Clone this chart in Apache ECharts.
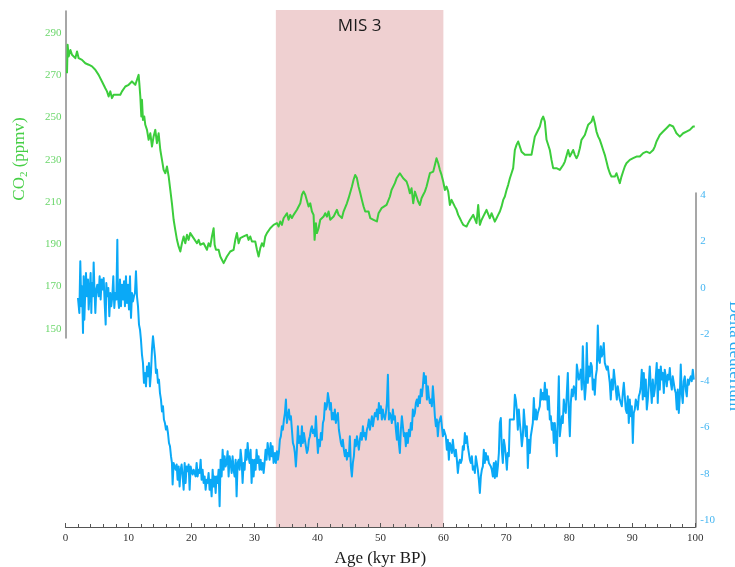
<!DOCTYPE html>
<html>
<head>
<meta charset="utf-8">
<title>CO2 and deuterium, 0-100 kyr BP</title>
<script src="https://cdn.jsdelivr.net/npm/echarts@6/dist/echarts.min.js"></script>
<style>
  html, body { margin: 0; padding: 0; background: #ffffff; }
  #chart { width: 735px; height: 567px; }
</style>
</head>
<body>
<div id="chart"></div>
<script>
// Atmospheric CO2 (ppmv) against age (kyr BP)
const co2Record = [
  [0.24,270.9],[0.34,284.3],[0.50,278.8],[0.77,281.9],[1.03,279.6],[1.30,280.4],[1.56,278.0],[1.83,281.2],[2.09,278.0],[2.35,278.8],
  [2.62,277.2],[2.88,276.4],[3.15,275.6],[3.41,276.4],[3.68,274.9],[3.94,275.6],[4.21,274.1],[4.47,273.3],[4.73,272.5],[5.00,271.7],
  [5.26,270.1],[5.53,269.3],[5.79,267.0],[6.06,266.2],[6.32,263.8],[6.59,262.3],[6.85,259.9],[7.12,262.3],[7.38,259.1],[7.64,260.7],
  [7.91,259.9],[8.17,260.7],[8.44,261.5],[8.70,260.7],[8.97,262.3],[9.23,263.0],[9.50,264.6],[9.76,263.8],[10.03,265.4],[10.29,266.2],
  [10.55,267.0],[10.82,267.8],[11.08,265.4],[11.35,267.8],[11.61,270.1],[11.72,266.2],[11.88,259.9],[12.04,250.4],[12.14,258.3],[12.30,248.8],
  [12.51,250.4],[12.67,246.5],[12.94,244.1],[13.20,239.4],[13.47,242.5],[13.73,236.2],[13.99,241.0],[14.26,244.1],[14.52,237.8],[14.79,242.5],
  [15.05,234.7],[15.32,229.9],[15.58,225.2],[15.85,223.6],[16.11,226.8],[16.38,222.1],[16.64,215.7],[16.90,209.4],[17.17,201.6],[17.43,196.8],
  [17.70,192.1],[17.96,189.0],[18.23,186.6],[18.49,190.5],[18.76,193.7],[19.02,190.5],[19.29,194.5],[19.55,192.1],[19.81,195.3],[20.08,196.0],
  [20.34,192.9],[20.61,193.7],[20.87,190.5],[21.14,192.1],[21.40,189.8],[21.67,189.0],[21.93,190.5],[22.20,191.3],[22.46,187.4],[22.72,190.5],
  [22.99,189.0],[23.25,193.7],[23.52,197.6],[23.68,189.8],[23.89,187.4],[24.05,186.6],[24.31,187.4],[24.58,184.2],[24.84,182.7],[25.11,181.1],
  [25.37,181.9],[25.63,184.2],[25.90,184.2],[26.16,186.6],[26.43,185.8],[26.69,187.4],[26.96,192.1],[27.22,195.3],[27.49,190.5],[27.75,192.9],
  [28.02,192.1],[28.28,193.7],[28.54,192.9],[28.81,194.5],[29.07,192.1],[29.34,193.7],[29.60,191.3],[29.87,190.5],[30.13,191.3],[30.40,187.4],
  [30.66,184.2],[30.93,188.2],[31.19,190.5],[31.45,189.0],[31.72,193.7],[31.98,195.3],[32.25,194.5],[32.51,197.6],[32.78,196.8],[33.04,199.2],
  [33.31,198.4],[33.57,200.0],[33.84,198.4],[34.10,200.8],[34.37,199.2],[34.63,202.3],[34.89,201.6],[35.16,204.7],[35.42,201.6],[35.69,203.9],
  [35.95,202.4],[36.22,203.9],[36.48,204.7],[36.75,206.3],[37.01,205.5],[37.28,209.4],[37.54,213.4],[37.80,215.0],[38.07,213.4],[38.33,212.6],
  [38.60,207.9],[38.86,209.4],[39.13,205.5],[39.39,203.9],[39.55,192.1],[39.76,200.0],[39.92,195.3],[40.18,197.6],[40.45,201.6],[40.71,200.8],
  [40.98,203.1],[41.24,204.7],[41.51,203.1],[41.77,205.5],[42.04,201.6],[42.30,200.8],[42.57,203.1],[42.83,204.7],[43.10,206.3],[43.36,203.9],
  [43.62,203.1],[43.89,202.4],[44.15,205.5],[44.42,206.3],[44.68,209.4],[44.95,211.8],[45.21,212.6],[45.48,217.3],[45.74,220.5],[46.00,222.8],
  [46.27,221.3],[46.53,217.3],[46.80,214.2],[47.06,211.0],[47.33,207.9],[47.59,205.5],[47.86,204.7],[48.12,205.5],[48.39,202.4],[48.65,201.6],
  [48.91,201.6],[49.18,202.4],[49.44,200.8],[49.71,204.7],[49.92,204.7],[50.18,207.1],[50.45,207.8],[50.98,208.6],[51.24,209.4],[51.51,212.6],
  [51.77,215.7],[52.04,214.9],[52.30,218.9],[52.57,221.2],[52.83,222.0],[53.09,223.6],[53.36,222.8],[53.62,221.2],[53.89,220.4],[54.15,219.7],
  [54.42,217.3],[54.68,214.1],[54.95,216.5],[55.21,209.4],[55.48,214.9],[55.74,212.6],[56.00,210.2],[56.27,208.6],[56.53,211.8],[56.80,213.4],
  [57.06,214.9],[57.33,217.3],[57.59,220.4],[57.86,223.6],[58.12,224.4],[58.39,224.4],[58.65,227.5],[58.91,230.7],[59.18,228.3],[59.44,225.2],
  [59.71,222.8],[59.97,219.7],[60.24,215.7],[60.50,217.3],[60.77,214.9],[61.03,208.6],[61.30,211.0],[61.56,211.0],[61.82,207.8],[62.09,206.3],
  [62.35,203.9],[62.62,202.3],[62.88,200.7],[63.15,199.2],[63.41,198.4],[63.68,198.4],[63.94,200.0],[64.21,201.5],[64.47,202.3],[64.74,203.9],
  [65.00,203.1],[65.26,200.0],[65.53,208.6],[65.79,199.2],[66.06,201.5],[66.32,203.1],[66.59,204.7],[66.85,206.3],[67.12,207.1],[67.38,202.3],
  [67.65,204.7],[67.91,203.9],[68.17,200.7],[68.44,202.3],[68.70,203.9],[68.97,205.5],[69.23,207.8],[69.50,211.0],[69.76,212.6],[70.03,215.7],
  [70.29,218.1],[70.56,221.2],[70.82,223.6],[71.08,226.0],[71.35,234.6],[71.61,237.0],[71.88,238.6],[72.14,239.4],[72.41,233.8],[72.67,233.1],
  [72.94,232.3],[73.20,231.5],[73.47,232.3],[73.73,233.1],[73.99,232.3],[74.26,232.3],[74.52,240.9],[74.79,242.5],[75.05,243.3],[75.32,245.7],
  [75.58,248.8],[75.85,250.4],[76.11,248.0],[76.38,239.4],[76.64,238.6],[76.90,234.6],[77.17,229.9],[77.43,226.0],[77.70,225.2],[77.96,226.0],
  [78.23,226.8],[78.49,225.2],[78.76,226.0],[79.02,227.5],[79.29,229.1],[79.55,229.9],[79.81,234.6],[80.08,231.5],[80.34,232.3],[80.61,234.6],
  [80.87,232.3],[81.14,230.7],[81.40,232.3],[81.67,235.4],[81.93,239.4],[82.19,240.1],[82.46,241.7],[82.72,244.1],[82.99,246.5],[83.25,247.2],
  [83.52,248.0],[83.78,250.4],[84.05,247.2],[84.31,243.3],[84.58,240.9],[84.84,239.4],[85.11,237.0],[85.37,234.6],[85.63,232.3],[85.90,229.1],
  [86.16,226.0],[86.43,223.6],[86.69,222.0],[86.96,221.2],[87.22,222.0],[87.49,223.6],[87.75,221.2],[88.01,218.9],[88.28,222.0],[88.54,224.4],
  [88.81,226.8],[89.07,228.3],[89.34,229.1],[89.60,229.9],[89.87,229.9],[90.13,230.7],[90.40,231.5],[90.66,231.5],[90.93,232.3],[91.19,231.5],
  [91.45,231.5],[91.72,233.1],[91.98,233.8],[92.25,233.8],[92.51,233.8],[92.78,233.1],[93.04,233.8],[93.31,234.6],[93.57,236.2],[93.84,238.6],
  [94.10,240.1],[94.36,241.7],[94.63,242.5],[94.89,243.3],[95.16,243.3],[95.42,244.9],[95.69,245.7],[95.95,246.5],[96.22,246.5],[96.48,245.7],
  [96.75,244.1],[97.01,242.5],[97.28,241.7],[97.54,240.9],[97.80,240.9],[98.07,242.5],[98.33,243.3],[98.60,243.3],[98.86,243.3],[99.13,244.1],
  [99.39,244.9],[99.66,245.7],[99.92,245.7]
];

// Delta deuterium (per mil anomaly) against age (kyr BP)
const deuteriumRecord = [
  [1.98,-0.43],[2.20,-1.08],[2.35,1.15],[2.51,-0.79],[2.62,0.07],[2.78,-1.94],[2.88,0.50],[2.99,-1.37],[3.15,-0.07],[3.25,0.64],
  [3.41,-0.36],[3.57,0.36],[3.68,-0.93],[3.84,-0.14],[3.99,0.64],[4.10,-1.08],[4.21,0.21],[4.36,-0.36],[4.47,1.10],[4.58,0.07],
  [4.74,-1.08],[4.89,-0.07],[5.05,0.14],[5.26,-0.36],[5.42,0.50],[5.58,-0.50],[5.74,0.36],[5.90,-0.07],[6.06,0.43],[6.22,-0.65],
  [6.38,-1.58],[6.48,0.21],[6.64,-0.36],[6.80,0.00],[6.96,-1.22],[7.12,-0.22],[7.27,-0.79],[7.43,-0.36],[7.59,0.50],[7.75,-0.86],
  [7.91,-0.22],[8.07,-0.50],[8.23,2.08],[8.33,-0.36],[8.49,-0.86],[8.65,0.36],[8.81,-0.79],[8.97,0.14],[9.13,-0.50],[9.29,0.29],
  [9.44,-0.79],[9.60,0.50],[9.76,-0.65],[9.92,0.14],[10.08,-0.93],[10.24,0.50],[10.40,-1.29],[10.56,-0.22],[10.71,-0.58],[10.87,-0.36],
  [11.03,-0.22],[11.19,0.72],[11.35,-0.36],[11.51,-0.79],[11.67,-1.58],[11.83,-1.80],[11.98,-2.23],[12.14,-2.87],[12.30,-3.23],[12.46,-4.09],
  [12.62,-3.66],[12.78,-4.24],[12.94,-3.38],[13.10,-3.81],[13.25,-3.23],[13.41,-4.24],[13.57,-3.66],[13.73,-2.66],[13.89,-2.08],[14.05,-2.51],
  [14.21,-2.95],[14.36,-3.66],[14.52,-3.52],[14.68,-4.09],[14.84,-3.95],[15.00,-4.53],[15.16,-4.81],[15.32,-5.32],[15.48,-5.10],[15.63,-5.67],
  [15.79,-5.82],[15.95,-6.10],[16.11,-5.96],[16.27,-6.25],[16.43,-6.68],[16.59,-6.82],[16.75,-7.25],[16.90,-7.54],[17.01,-8.47],[17.17,-7.54],
  [17.33,-7.69],[17.49,-7.83],[17.65,-7.61],[17.80,-8.26],[17.96,-7.69],[18.12,-8.55],[18.28,-7.83],[18.44,-7.61],[18.60,-8.12],[18.76,-8.69],
  [18.92,-7.54],[19.07,-8.40],[19.23,-7.69],[19.39,-7.90],[19.55,-7.61],[19.71,-8.69],[19.87,-7.69],[20.03,-7.90],[20.19,-8.04],[20.34,-7.83],
  [20.50,-7.97],[20.66,-8.12],[20.82,-7.54],[20.98,-8.12],[21.14,-7.83],[21.30,-7.97],[21.46,-7.40],[21.61,-8.26],[21.77,-7.83],[21.93,-8.40],
  [22.09,-8.12],[22.25,-8.69],[22.41,-8.26],[22.57,-8.40],[22.72,-7.97],[22.88,-8.69],[23.04,-8.26],[23.20,-8.98],[23.36,-7.83],[23.52,-8.55],
  [23.68,-8.12],[23.84,-8.83],[23.99,-8.12],[24.15,-8.40],[24.31,-7.83],[24.47,-9.41],[24.63,-7.40],[24.79,-8.12],[24.95,-6.97],[25.11,-7.83],
  [25.26,-7.25],[25.42,-7.69],[25.58,-7.54],[25.74,-7.04],[25.90,-8.12],[26.06,-7.25],[26.22,-7.54],[26.38,-7.97],[26.53,-7.25],[26.69,-7.83],
  [26.85,-8.12],[27.01,-7.40],[27.17,-8.98],[27.33,-7.54],[27.49,-7.40],[27.65,-7.83],[27.80,-6.97],[27.96,-7.40],[28.12,-8.40],[28.28,-7.54],
  [28.44,-7.83],[28.60,-6.97],[28.76,-7.40],[28.92,-6.68],[29.07,-7.25],[29.23,-7.54],[29.39,-6.97],[29.55,-8.40],[29.71,-7.40],[29.87,-8.12],
  [30.03,-7.40],[30.19,-7.83],[30.34,-6.97],[30.50,-7.54],[30.66,-7.25],[30.82,-7.83],[30.98,-7.40],[31.14,-7.83],[31.30,-7.54],[31.46,-7.97],
  [31.61,-7.54],[31.77,-6.97],[31.93,-7.40],[32.09,-6.68],[32.25,-6.68],[32.41,-7.40],[32.57,-6.68],[32.72,-7.25],[32.88,-6.82],[33.04,-7.54],
  [33.20,-7.25],[33.25,-7.11],[33.41,-7.54],[33.57,-7.04],[33.73,-7.40],[33.88,-7.11],[34.04,-6.54],[34.20,-6.39],[34.36,-5.96],[34.52,-6.11],
  [34.68,-5.67],[34.84,-5.39],[35.00,-4.81],[35.15,-5.82],[35.31,-5.53],[35.47,-5.24],[35.63,-5.67],[35.79,-5.53],[35.95,-6.11],[36.11,-6.68],
  [36.27,-6.82],[36.42,-7.11],[36.58,-7.69],[36.74,-6.97],[36.90,-5.96],[37.06,-6.68],[37.22,-6.39],[37.38,-6.82],[37.54,-5.96],[37.69,-6.68],
  [37.85,-6.25],[38.01,-6.54],[38.17,-6.82],[38.33,-7.11],[38.49,-6.97],[38.65,-6.54],[38.81,-6.39],[38.96,-6.11],[39.12,-5.96],[39.28,-6.25],
  [39.44,-6.11],[39.60,-6.39],[39.76,-5.53],[39.92,-6.39],[40.08,-7.11],[40.23,-6.54],[40.39,-6.82],[40.55,-6.25],[40.71,-6.54],[40.87,-5.82],
  [41.03,-5.67],[41.19,-4.96],[41.35,-5.24],[41.50,-5.10],[41.66,-4.53],[41.82,-4.81],[41.98,-5.24],[42.14,-4.96],[42.30,-5.67],[42.46,-5.39],
  [42.62,-5.67],[42.77,-5.24],[42.93,-5.82],[43.09,-5.53],[43.25,-5.39],[43.41,-6.11],[43.57,-6.39],[43.73,-6.68],[43.88,-6.82],[44.04,-6.54],
  [44.20,-6.97],[44.36,-7.25],[44.52,-6.97],[44.68,-7.40],[44.84,-7.11],[45.00,-7.25],[45.15,-6.39],[45.31,-7.69],[45.47,-8.12],[45.63,-7.54],
  [45.79,-7.25],[45.95,-6.54],[46.11,-6.82],[46.27,-6.39],[46.42,-6.68],[46.58,-6.97],[46.74,-6.54],[46.90,-6.25],[47.06,-6.54],[47.22,-5.96],
  [47.38,-6.39],[47.54,-6.25],[47.69,-6.54],[47.85,-6.11],[48.01,-5.96],[48.17,-5.67],[48.33,-6.11],[48.49,-5.82],[48.65,-5.53],[48.81,-5.96],
  [48.96,-5.67],[49.12,-5.39],[49.28,-5.53],[49.44,-5.24],[49.60,-5.67],[49.76,-4.96],[49.92,-5.39],[50.08,-5.10],[50.23,-5.67],[50.39,-5.24],
  [50.55,-5.53],[50.71,-5.67],[50.87,-5.39],[51.03,-4.96],[51.19,-3.74],[51.35,-5.67],[51.50,-5.39],[51.66,-5.53],[51.82,-5.82],[51.98,-5.24],
  [52.14,-5.67],[52.30,-5.53],[52.46,-6.11],[52.62,-6.54],[52.77,-5.82],[52.93,-6.68],[53.09,-7.11],[53.25,-6.11],[53.41,-5.53],[53.57,-5.96],
  [53.73,-6.39],[53.88,-6.25],[54.04,-6.82],[54.20,-6.25],[54.36,-6.68],[54.52,-6.11],[54.68,-6.39],[54.84,-5.82],[55.00,-6.11],[55.15,-5.24],
  [55.31,-5.53],[55.47,-5.39],[55.63,-4.96],[55.79,-4.81],[55.95,-5.10],[56.11,-4.67],[56.27,-4.96],[56.42,-4.38],[56.58,-4.67],[56.74,-4.24],
  [56.90,-3.66],[57.06,-4.10],[57.22,-3.81],[57.38,-4.81],[57.54,-4.24],[57.69,-4.67],[57.85,-4.96],[58.01,-4.81],[58.17,-5.10],[58.33,-4.24],
  [58.49,-4.81],[58.65,-5.53],[58.81,-5.96],[58.96,-5.67],[59.12,-6.39],[59.28,-5.82],[59.44,-5.67],[59.60,-5.53],[59.76,-5.96],[59.92,-6.39],
  [60.08,-6.11],[60.23,-6.25],[60.39,-6.39],[60.55,-6.97],[60.71,-6.54],[60.87,-7.40],[61.03,-6.68],[61.19,-6.82],[61.35,-7.11],[61.50,-6.54],
  [61.66,-6.97],[61.82,-7.25],[61.98,-6.97],[62.14,-7.40],[62.30,-7.97],[62.46,-7.54],[62.62,-7.40],[62.77,-7.54],[62.93,-7.40],[63.09,-6.82],
  [63.25,-6.97],[63.41,-6.25],[63.57,-6.68],[63.73,-6.39],[63.88,-6.82],[64.04,-7.11],[64.20,-7.40],[64.36,-7.54],[64.52,-7.25],[64.68,-7.83],
  [64.84,-7.69],[65.00,-7.97],[65.15,-7.25],[65.31,-7.54],[65.47,-7.83],[65.63,-8.26],[65.79,-8.83],[65.95,-8.12],[66.11,-7.83],[66.27,-7.69],
  [66.42,-6.97],[66.58,-7.54],[66.74,-7.11],[66.90,-7.40],[67.06,-7.25],[67.22,-7.54],[67.38,-7.47],[67.54,-7.69],[67.69,-7.83],[67.85,-8.12],
  [68.01,-7.54],[68.17,-8.19],[68.33,-7.47],[68.49,-8.12],[68.65,-7.69],[68.81,-7.11],[68.96,-5.82],[69.12,-5.60],[69.28,-6.97],[69.44,-7.54],
  [69.60,-6.54],[69.76,-6.82],[69.92,-7.25],[70.08,-7.83],[70.23,-7.11],[70.39,-7.25],[70.55,-5.67],[70.71,-5.60],[70.87,-5.67],[71.03,-5.60],
  [71.19,-5.67],[71.35,-4.60],[71.50,-4.81],[71.66,-5.24],[71.82,-6.11],[71.98,-5.24],[72.14,-5.82],[72.30,-6.25],[72.46,-6.82],[72.62,-6.39],
  [72.77,-5.24],[72.93,-5.82],[73.09,-6.39],[73.25,-5.96],[73.41,-7.76],[73.57,-6.54],[73.73,-7.11],[73.88,-6.39],[74.04,-6.11],[74.20,-5.82],
  [74.36,-4.74],[74.52,-5.67],[74.68,-5.24],[74.84,-5.67],[75.00,-5.39],[75.16,-5.24],[75.31,-5.10],[75.47,-4.38],[75.63,-4.81],[75.79,-4.53],
  [75.95,-4.81],[76.11,-4.09],[76.27,-4.81],[76.43,-4.38],[76.58,-5.24],[76.74,-4.67],[76.90,-5.67],[77.06,-5.53],[77.22,-6.11],[77.38,-5.82],
  [77.54,-6.68],[77.69,-5.82],[77.85,-6.39],[78.01,-7.25],[78.17,-5.53],[78.33,-3.81],[78.49,-6.39],[78.65,-5.96],[78.81,-5.53],[78.96,-5.82],
  [79.12,-4.81],[79.28,-5.24],[79.44,-5.39],[79.60,-4.53],[79.76,-3.66],[79.92,-5.39],[80.08,-6.39],[80.23,-4.96],[80.39,-4.38],[80.55,-4.67],
  [80.71,-4.24],[80.87,-4.38],[81.03,-4.81],[81.19,-3.30],[81.35,-3.38],[81.50,-3.95],[81.66,-3.81],[81.82,-3.52],[81.98,-4.38],[82.14,-2.51],
  [82.30,-3.95],[82.46,-4.81],[82.62,-4.24],[82.77,-2.37],[82.93,-4.09],[83.09,-3.38],[83.25,-3.81],[83.41,-3.23],[83.57,-3.38],[83.73,-4.38],
  [83.88,-3.95],[84.04,-4.60],[84.20,-3.81],[84.36,-3.52],[84.52,-1.62],[84.68,-3.09],[84.84,-3.23],[85.00,-2.51],[85.15,-2.95],[85.31,-2.80],
  [85.47,-2.37],[85.63,-3.23],[85.79,-3.38],[85.95,-3.52],[86.11,-3.38],[86.27,-3.45],[86.42,-4.09],[86.58,-4.81],[86.74,-3.95],[86.90,-4.38],
  [87.06,-3.52],[87.22,-3.95],[87.38,-4.38],[87.54,-4.81],[87.69,-4.24],[87.85,-4.53],[88.01,-4.81],[88.17,-4.96],[88.33,-5.10],[88.49,-4.53],
  [88.65,-4.09],[88.81,-4.67],[88.96,-5.24],[89.12,-5.39],[89.28,-4.67],[89.44,-5.82],[89.60,-4.81],[89.76,-5.53],[89.92,-5.10],[90.08,-6.68],
  [90.23,-5.39],[90.39,-5.24],[90.55,-4.81],[90.71,-4.96],[90.87,-5.24],[91.03,-4.67],[91.19,-4.53],[91.35,-4.24],[91.50,-3.52],[91.66,-4.81],
  [91.82,-3.66],[91.98,-4.67],[92.14,-3.95],[92.30,-5.24],[92.46,-4.81],[92.62,-4.09],[92.77,-3.38],[92.93,-4.24],[93.09,-4.96],[93.25,-3.95],
  [93.41,-4.67],[93.57,-4.38],[93.73,-3.81],[93.88,-3.23],[94.04,-4.96],[94.20,-3.52],[94.36,-4.38],[94.52,-3.38],[94.68,-3.95],[94.84,-3.66],
  [95.00,-4.53],[95.15,-3.52],[95.31,-3.81],[95.47,-4.24],[95.63,-3.74],[95.79,-3.95],[95.95,-3.45],[96.11,-4.09],[96.27,-4.38],[96.42,-3.81],
  [96.58,-4.09],[96.74,-4.38],[96.90,-4.53],[97.06,-5.24],[97.22,-4.38],[97.38,-5.39],[97.54,-4.67],[97.69,-3.30],[97.85,-4.53],[98.01,-4.96],
  [98.17,-4.02],[98.33,-3.81],[98.49,-4.38],[98.65,-4.67],[98.81,-3.95],[98.96,-4.17],[99.12,-3.95],[99.28,-3.81],[99.44,-4.02],[99.60,-3.52],
  [99.76,-3.95]
];

// Marine isotope stage 3 interval (kyr BP)
const mis3Span = [33.4, 60];
const mis3Label = 'MIS 3';

// Tick labels
const ageTicks = [0, 10, 20, 30, 40, 50, 60, 70, 80, 90, 100];
const co2Ticks = [150, 170, 190, 210, 230, 250, 270, 290];
const deuteriumTicks = [-10, -8, -6, -4, -2, 0, 2, 4];

const SERIF = '"Liberation Serif", "DejaVu Serif", serif';
const CO2_COLOR = '#3ccd3c';
const DD_COLOR = '#0aa9f7';

const chart = echarts.init(document.getElementById('chart'), null, { renderer: 'canvas' });

const plotLeft = 65.5;
const plotRight = 39.7;

chart.setOption({
  animation: false,
  backgroundColor: '#ffffff',
  grid: [
    // CO2 panel
    { left: plotLeft, right: plotRight, top: 11, height: 327, outerBoundsMode: 'none', containLabel: false },
    // deuterium panel + age axis
    { left: plotLeft, right: plotRight, top: 193, height: 334, outerBoundsMode: 'none', containLabel: false },
    // full-height band
    { left: plotLeft, right: plotRight, top: 10, height: 517, outerBoundsMode: 'none', containLabel: false }
  ],
  xAxis: [
    { gridIndex: 0, type: 'value', min: 0, max: 100, show: false },
    {
      gridIndex: 1, type: 'value', min: 0, max: 100, interval: 10, z: 5,
      name: 'Age (kyr BP)', nameLocation: 'middle', nameGap: 23,
      nameTextStyle: { fontFamily: SERIF, fontSize: 17, color: '#1a1a1a' },
      axisLine: { show: true, onZero: false, lineStyle: { color: '#555555', width: 1.2 } },
      axisTick: { show: true, inside: true, length: 4, lineStyle: { color: '#555555', width: 1 } },
      minorTick: { show: true, splitNumber: 5, length: 3, lineStyle: { color: '#555555', width: 1 } },
      axisLabel: { customValues: ageTicks, fontFamily: SERIF, fontSize: 11, color: '#333333', margin: 6 },
      splitLine: { show: false }, minorSplitLine: { show: false }
    },
    { gridIndex: 2, type: 'value', min: 0, max: 100, show: false }
  ],
  yAxis: [
    {
      gridIndex: 0, type: 'value', position: 'left', min: 145.7, max: 300.3,
      axisLine: { show: true, onZero: false, lineStyle: { color: '#8a8a8a', width: 1.5 } },
      axisTick: { show: false },
      splitLine: { show: false },
      axisLabel: { customValues: co2Ticks, fontFamily: SERIF, fontSize: 11, color: '#6ad66a', margin: 4 }
    },
    {
      gridIndex: 1, type: 'value', position: 'right', min: -10.3, max: 4.09,
      axisLine: { show: true, onZero: false, lineStyle: { color: '#8a8a8a', width: 1.5 } },
      axisTick: { show: false },
      splitLine: { show: false },
      axisLabel: { customValues: deuteriumTicks, fontFamily: SERIF, fontSize: 11, color: '#45b6f2', margin: 5 }
    },
    { gridIndex: 2, type: 'value', min: 0, max: 1, show: false }
  ],
  series: [
    {
      name: mis3Label, type: 'line', xAxisIndex: 2, yAxisIndex: 2, data: [], z: 1, silent: true,
      markArea: {
        silent: true,
        itemStyle: { color: '#efd0d1' },
        label: {
          show: true, position: 'insideTop', distance: 8,
          fontFamily: '"Open Sans", "Liberation Sans", sans-serif', fontSize: 17, color: '#1a1a1a'
        },
        data: [[{ xAxis: mis3Span[0], name: mis3Label }, { xAxis: mis3Span[1] }]]
      }
    },
    {
      name: 'CO2', type: 'line', xAxisIndex: 0, yAxisIndex: 0, data: co2Record,
      symbol: 'none', z: 3,
      lineStyle: { color: CO2_COLOR, width: 2, join: 'round' }
    },
    {
      name: 'Delta deuterium', type: 'line', xAxisIndex: 1, yAxisIndex: 1, data: deuteriumRecord,
      symbol: 'none', z: 3,
      lineStyle: { color: DD_COLOR, width: 2, join: 'round' }
    }
  ],
  graphic: [
    {
      type: 'text', x: 20, y: 159, rotation: Math.PI / 2,
      style: {
        text: '{n|CO}{s|2}{n| (ppmv)}',
        align: 'center', verticalAlign: 'middle',
        rich: {
          n: { fontFamily: SERIF, fontSize: 17, fill: '#46cf46', color: '#46cf46' },
          s: { fontFamily: SERIF, fontSize: 11, fill: '#46cf46', color: '#46cf46', padding: [9, 0, 0, 0] }
        }
      }
    },
    {
      type: 'text', x: 734, y: 356, rotation: -Math.PI / 2,
      style: {
        text: 'Delta deuterium',
        align: 'center', verticalAlign: 'middle',
        font: '17px ' + SERIF, fill: '#2aaaf0'
      }
    }
  ]
});
</script>
</body>
</html>
